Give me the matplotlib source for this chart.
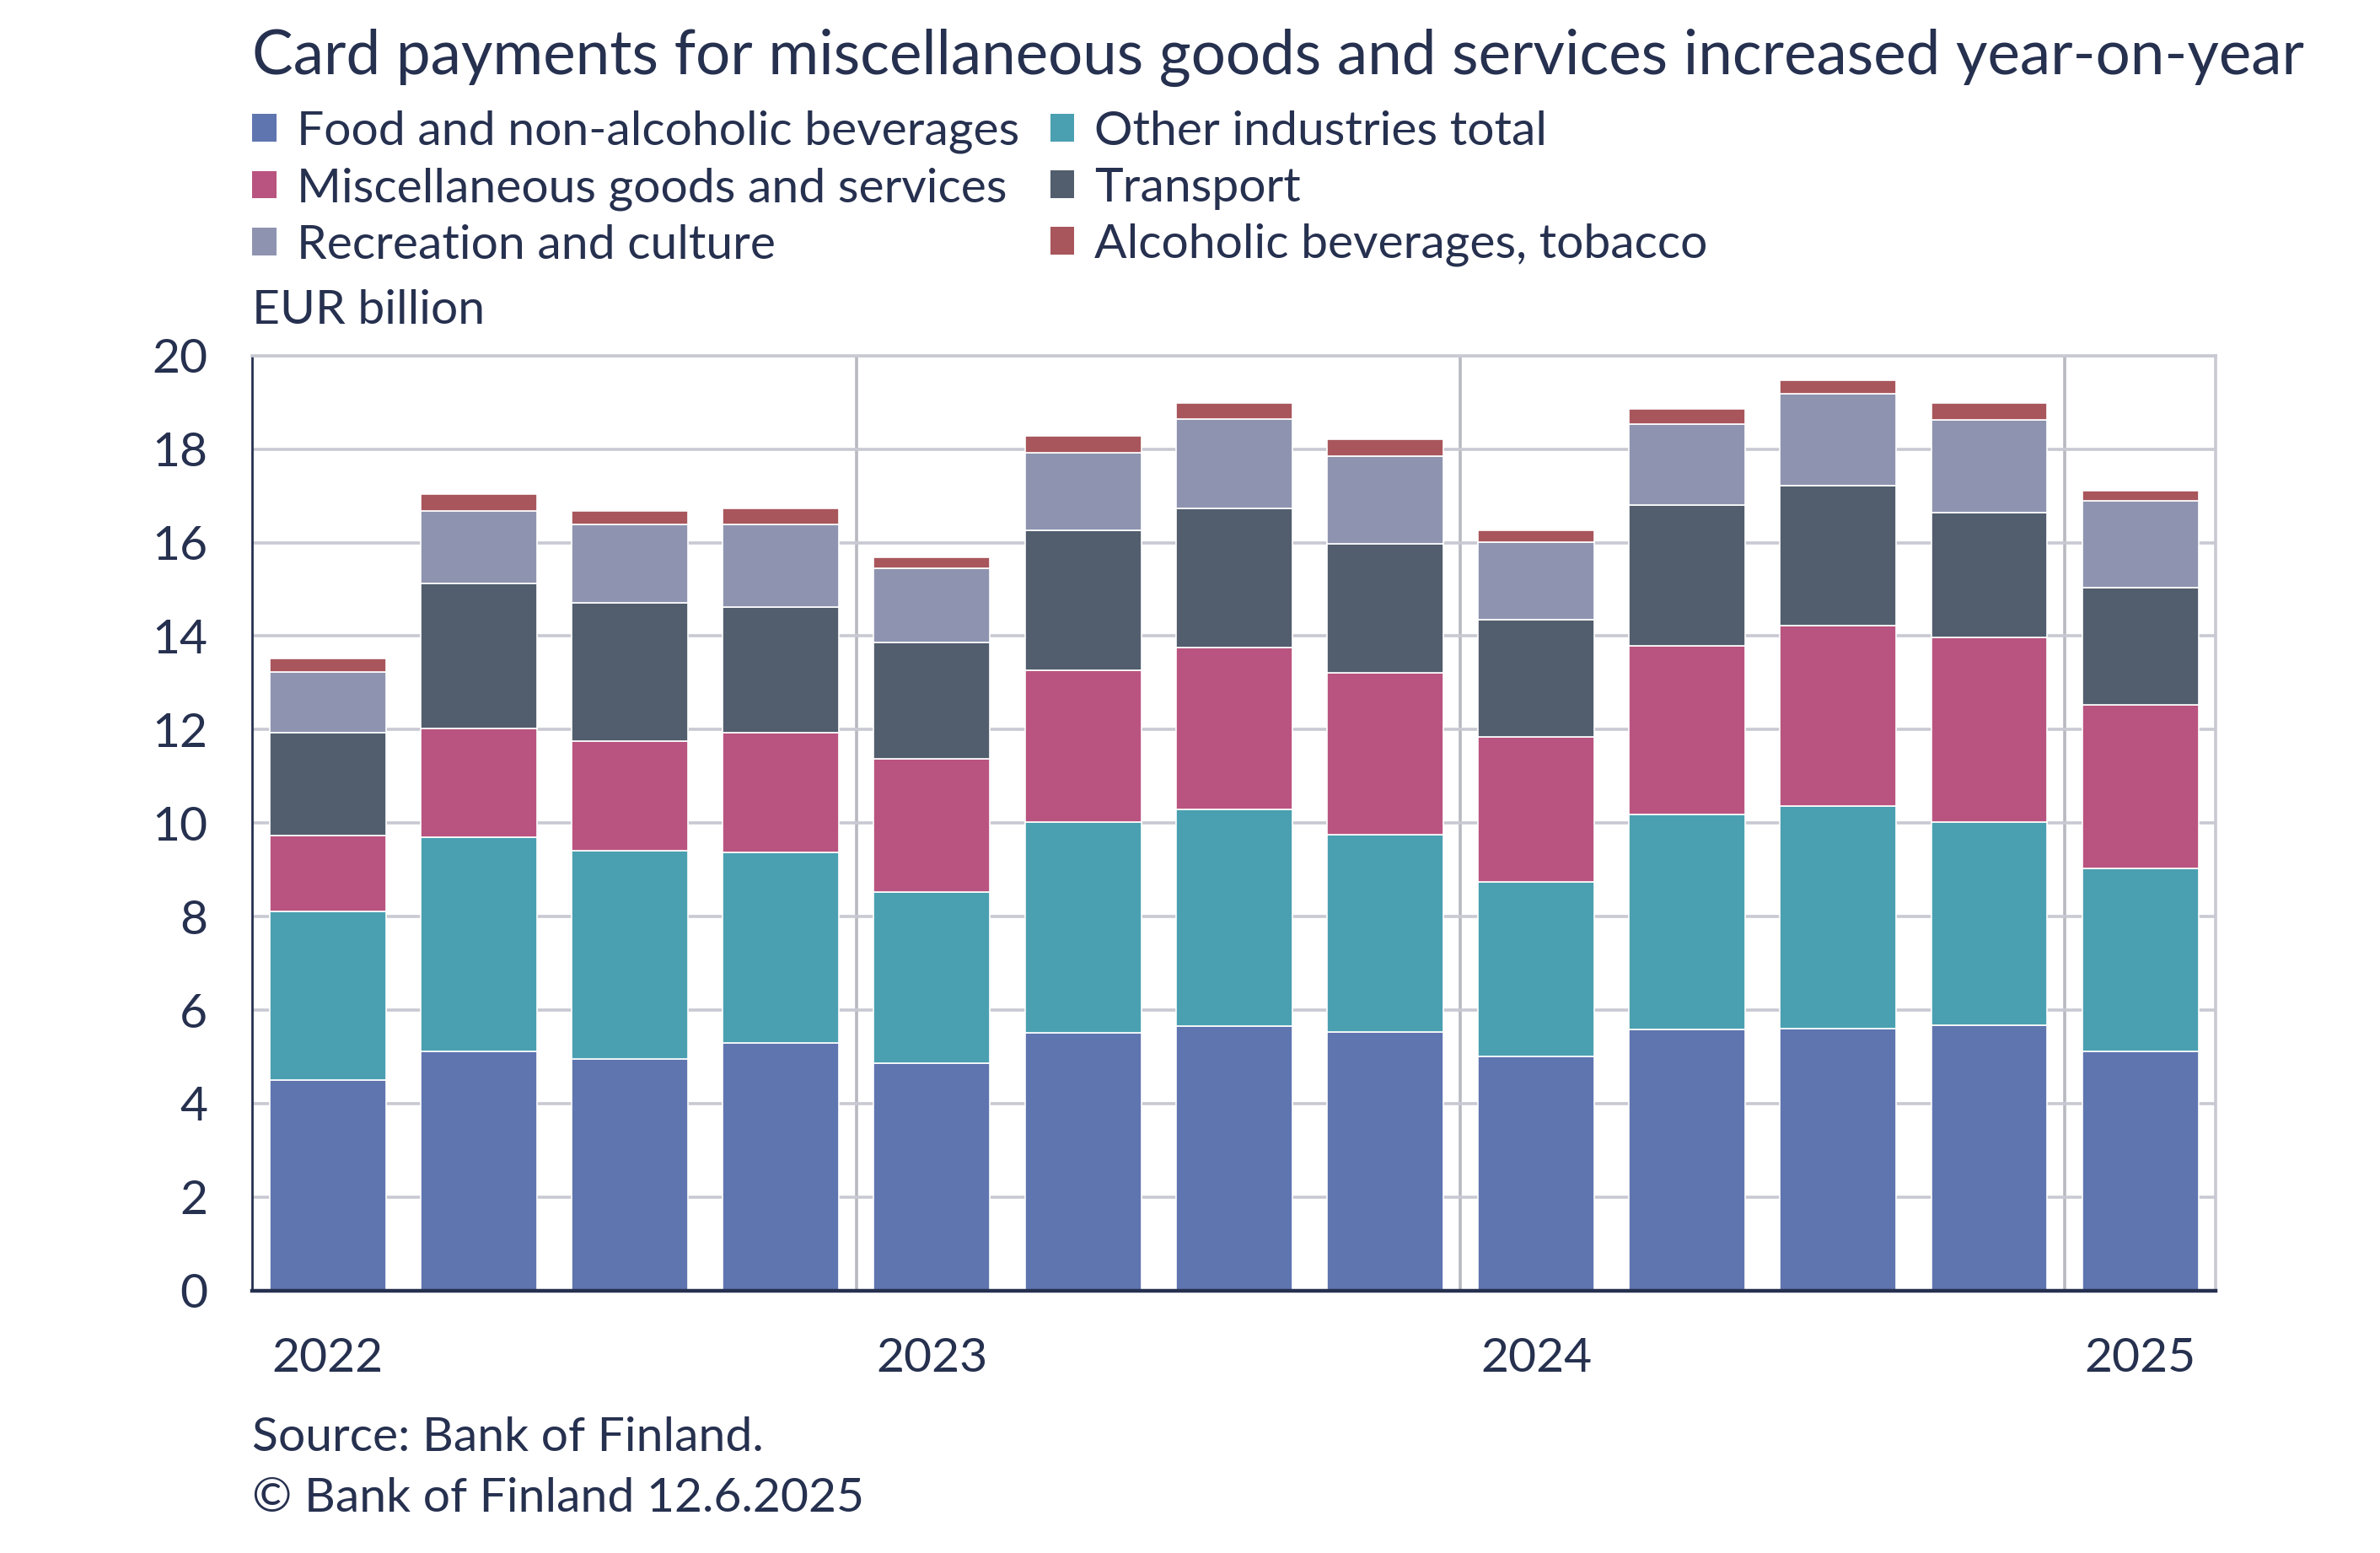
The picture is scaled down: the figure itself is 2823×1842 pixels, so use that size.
import numpy as np
import matplotlib.pyplot as plt
from matplotlib.patches import Patch

# 季度数据 (EUR billion), 2022Q1 .. 2025Q1
quarters = ["2022Q1", "2022Q2", "2022Q3", "2022Q4",
            "2023Q1", "2023Q2", "2023Q3", "2023Q4",
            "2024Q1", "2024Q2", "2024Q3", "2024Q4",
            "2025Q1"]
food = [4.51, 5.12, 4.95, 5.29, 4.86, 5.51, 5.65, 5.54, 5.01, 5.58, 5.60, 5.67, 5.11]
other = [3.60, 4.57, 4.46, 4.08, 3.67, 4.51, 4.65, 4.22, 3.73, 4.61, 4.76, 4.35, 3.92]
misc = [1.62, 2.33, 2.34, 2.56, 2.84, 3.25, 3.46, 3.46, 3.10, 3.61, 3.86, 3.95, 3.50]
transport = [2.20, 3.10, 2.97, 2.70, 2.49, 2.99, 2.97, 2.75, 2.51, 3.00, 3.00, 2.68, 2.50]
recreation = [1.31, 1.56, 1.67, 1.76, 1.59, 1.67, 1.92, 1.88, 1.66, 1.73, 1.97, 1.98, 1.86]
alcohol = [0.28, 0.35, 0.29, 0.34, 0.24, 0.35, 0.33, 0.36, 0.25, 0.33, 0.29, 0.35, 0.22]

series_names = ["Food and non-alcoholic beverages", "Other industries total",
                "Miscellaneous goods and services", "Transport",
                "Recreation and culture", "Alcoholic beverages, tobacco"]
series_colors = ["#5F75B0", "#4AA0B1", "#B95480", "#525E6E", "#8E94B0", "#A8565C"]

year_ticks = [0, 4, 8, 12]
year_labels = ["2022", "2023", "2024", "2025"]

text_color = "#26304F"
fs = 20.5
plt.rcParams['font.family'] = ['Lato', 'DejaVu Sans']

fig = plt.figure(figsize=(14.115, 9.21), dpi=200)
ax = fig.add_axes([0.106, 0.169, 0.825, 0.602])

x = np.arange(len(quarters))
bottom = np.zeros(len(quarters))
for vals, col in zip([food, other, misc, transport, recreation, alcohol], series_colors):
    ax.bar(x, vals, width=0.77, bottom=bottom, color=col, edgecolor='white',
           linewidth=0.6, zorder=3)
    bottom += np.array(vals)

ax.set_xlim(-0.5, len(quarters) - 0.5)
ax.set_ylim(0, 20)
ax.set_yticks(range(0, 21, 2))
ax.yaxis.grid(True, color="#C8C9D2", linewidth=1.3, zorder=0)
for sep in [3.5, 7.5, 11.5]:
    ax.axvline(sep, color="#B8B9C0", linewidth=1.3, zorder=1)

ax.set_xticks(year_ticks)
ax.set_xticklabels(year_labels)
ax.tick_params(axis='both', length=0, labelsize=fs, colors=text_color)
ax.tick_params(axis='x', pad=20)
ax.tick_params(axis='y', pad=19)

ax.spines['top'].set_color("#C8C9D2")
ax.spines['right'].set_color("#C8C9D2")
ax.spines['top'].set_linewidth(1.3)
ax.spines['right'].set_linewidth(1.3)
ax.spines['left'].set_color(text_color)
ax.spines['left'].set_linewidth(1.0)
ax.spines['bottom'].set_color(text_color)
ax.spines['bottom'].set_linewidth(1.6)
ax.spines['bottom'].set_zorder(5)

fig.text(0.106, 0.963, "Card payments for miscellaneous goods and services increased year-on-year",
         fontsize=26.2, color=text_color, va='center', ha='left')

handles = [Patch(facecolor=c, edgecolor='none') for c in series_colors]
order = [0, 2, 4, 1, 3, 5]
fig.legend([handles[i] for i in order], [series_names[i] for i in order],
           loc='upper left', bbox_to_anchor=(0.106, 0.929), ncol=2, frameon=False,
           fontsize=fs, labelcolor=text_color, handlelength=0.5, handleheight=0.5,
           handletextpad=0.42, columnspacing=0.65, labelspacing=0.28,
           borderaxespad=0, borderpad=0)

fig.text(0.106, 0.800, "EUR billion", fontsize=fs, color=text_color, va='center', ha='left')
fig.text(0.106, 0.074, "Source: Bank of Finland.", fontsize=fs, color=text_color,
         va='center', ha='left')
fig.text(0.106, 0.035, "\u00a9 Bank of Finland 12.6.2025", fontsize=fs, color=text_color,
         va='center', ha='left')

fig.savefig("out.png", dpi=200, facecolor='white')
